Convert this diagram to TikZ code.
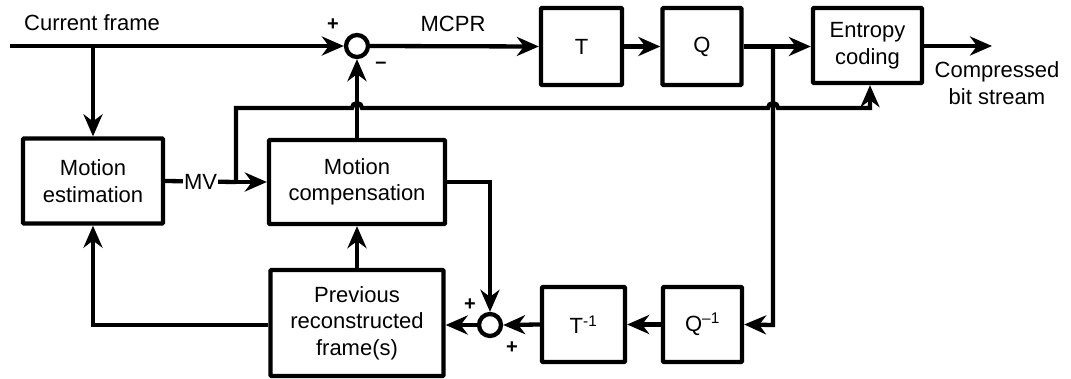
\documentclass[tikz,border=0pt]{standalone}
\usepackage{fontspec}
\setmainfont{Liberation Sans}
\usetikzlibrary{arrows.meta,calc}
\begin{document}
\begin{tikzpicture}[x=1pt,y=1pt,
  line width=4.3pt,
  font=\fontsize{22}{26.5}\selectfont,
  arr/.style={-{Stealth[length=22pt 0,width=19pt 0,inset=7pt]}},
  blk/.style={draw,rounded corners=1pt,align=center,inner sep=0pt},
  sumn/.style={draw,circle,minimum size=22pt,inner sep=0pt},
  sgn/.style={font=\fontsize{20}{20}\selectfont\bfseries,inner sep=0pt},
  lbl/.style={inner sep=0pt,align=center}]
\useasboundingbox (0,0) rectangle (1071,-379);
% blocks
\node[blk,minimum width=140pt,minimum height=85pt] (ME) at (93,-181) {Motion\\estimation};
\node[blk,minimum width=176pt,minimum height=84pt] (MC) at (357,-182) {Motion\\compensation};
\node[blk,minimum width=173pt,minimum height=106pt] (PR) at (357,-323) {Previous\\reconstructed\\frame(s)};
\node[blk,minimum width=81pt,minimum height=77pt] (T) at (581.5,-46.5) {T};
\node[blk,minimum width=79pt,minimum height=77pt] (Q) at (702,-46.5) {Q};
\node[blk,minimum width=109pt,minimum height=75pt] (E) at (867.5,-45.5) {Entropy\\coding};
\node[blk,minimum width=83pt,minimum height=75pt] (TI) at (583.5,-324.5) {T\textsuperscript{-1}};
\node[blk,minimum width=79pt,minimum height=75pt] (QI) at (702.5,-324.5) {Q\textsuperscript{–1}};
\node[sumn] (S1) at (357,-46) {};
\node[sumn] (S2) at (490,-325) {};
% labels
\node[lbl,anchor=west] (cf) at (22,-23) {Current frame};
\node[lbl] (mcpr) at (453,-24) {MCPR};
\node[lbl] (cbs) at (997,-83) {Compressed\\bit stream};
\node[sgn] (p1) at (333,-25) {+};
\node[sgn] (m1) at (381,-65) {\textbf{–}};
\node[sgn] (p2) at (470,-305) {+};
\node[sgn] (p3) at (512,-348) {+};
% coordinates
\coordinate (in) at (10,-46);
\coordinate (cfb) at (93,-46);
\coordinate (qb) at (773,-46);
\coordinate (out) at (992,-46);
\coordinate (mvb) at (236,-182);
\coordinate (mvt) at (236,-108);
\coordinate (h1) at (352,-108);
\coordinate (h2) at (768,-108);
\coordinate (mve) at (870,-108);
\coordinate (qlow) at (773,-325);
% connectors
\draw[arr] (in) -- (S1.west);
\draw[arr] (cfb) -- (ME.north);
\draw[arr] (S1.east) -- (T.west);
\draw[arr] (T.east) -- (Q.east -| Q.west);
\draw[arr] (Q.east) -- (E.west |- Q.east);
\draw[arr] (E.east |- out) -- (out);
\draw[arr] (MC.north) -- (S1.south);
\draw (ME.east) -- node[fill=white,inner sep=1pt] (MV) {MV} (mvb);
\draw[arr] (mvb) -- (MC.west);
\draw[arr] (mvb) -- (mvt) -- (h1) arc[start angle=180,end angle=0,radius=5pt]
   -- (h2) arc[start angle=180,end angle=0,radius=5pt] -- (mve) -- (mve |- E.south);
\draw[arr] (qb) -- (qlow) -- (QI.east);
\draw[arr] (QI.west) -- (TI.east);
\draw[arr] (TI.west) -- (S2.east);
\draw[arr] (S2.west) -- (PR.east |- S2.west);
\draw[arr] (MC.east) -| (S2.north);
\draw[arr] (PR.north) -- (MC.south);
\draw[arr] (PR.west |- S2.west) -| (ME.south);
\end{tikzpicture}
\end{document}
